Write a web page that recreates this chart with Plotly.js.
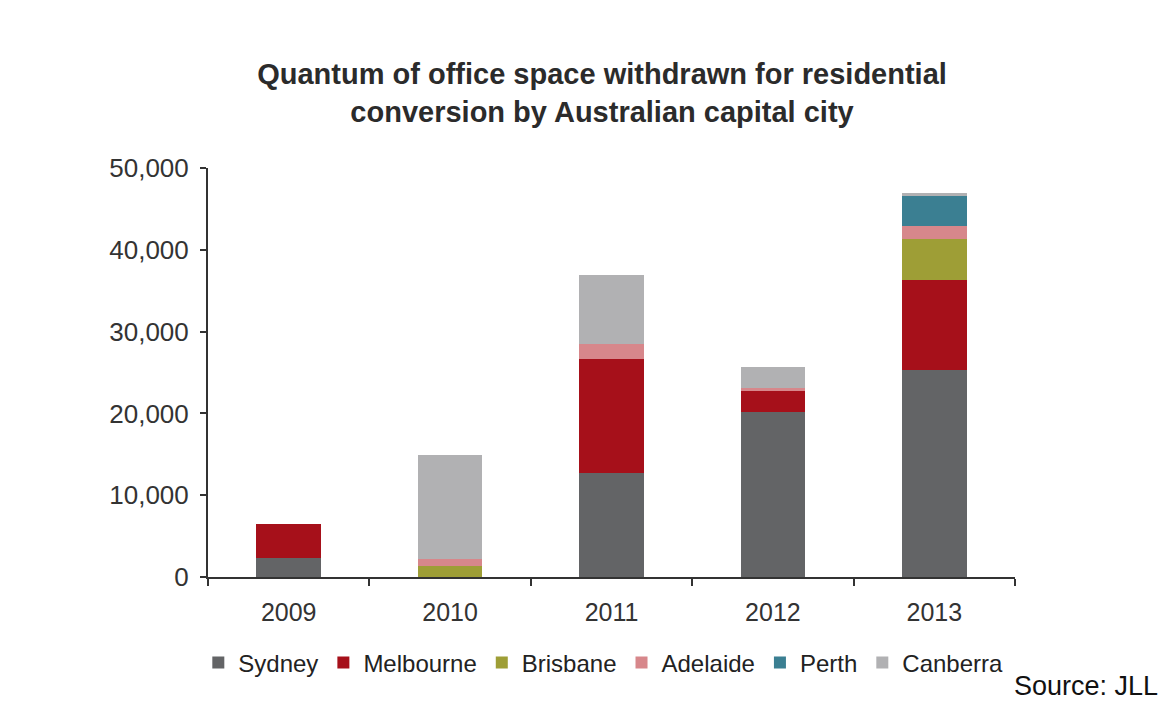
<!DOCTYPE html>
<html>
<head>
<meta charset="utf-8">
<script src="https://cdn.plot.ly/plotly-3.0.1.min.js"></script>
<style>html,body{margin:0;padding:0;background:#fff;}#chart{width:1160px;height:704px;}</style>
</head>
<body>
<div id="chart"></div>
<script>
var years = ["2009", "2010", "2011", "2012", "2013"];
var sydney    = [2300, 0, 12700, 20200, 25300];
var melbourne = [4200, 0, 13900, 2600, 11000];
var brisbane  = [0, 1300, 0, 0, 5000];
var adelaide  = [0, 950, 1850, 250, 1650];
var perth     = [0, 0, 0, 0, 3600];
var canberra  = [0, 12650, 8500, 2600, 400];
var seriesNames = ["Sydney", "Melbourne", "Brisbane", "Adelaide", "Perth", "Canberra"];
var seriesColors = ["#636466", "#a6101a", "#9e9e36", "#d7878b", "#3b7f92", "#b1b1b3"];
var seriesData = [sydney, melbourne, brisbane, adelaide, perth, canberra];

var sans = "'Liberation Sans', Arial, sans-serif";

var traces = seriesNames.map(function (n, i) {
  return {
    type: "bar",
    name: n,
    x: years,
    y: seriesData[i],
    marker: {color: seriesColors[i], line: {width: 0}},
    hoverinfo: "x+y+name"
  };
});

var layout = {
  width: 1160,
  height: 704,
  barmode: "stack",
  bargap: 0.6,
  paper_bgcolor: "#ffffff",
  plot_bgcolor: "#ffffff",
  margin: {l: 208, r: 145, t: 168, b: 127},
  title: {
    text: "Quantum of office space withdrawn for residential<br>conversion by Australian capital city",
    font: {family: sans, size: 29, color: "#2b2b2b", weight: "bold"},
    x: 0.519, xanchor: "center",
    y: 0.88, yanchor: "top"
  },
  xaxis: {
    type: "category",
    showline: true, linecolor: "#333", linewidth: 2,
    ticks: "outside", tickson: "boundaries", ticklen: 7, tickcolor: "#333", tickwidth: 2,
    tickfont: {family: sans, size: 25, color: "#333"},
    ticklabelstandoff: 12,
    showgrid: false, zeroline: false
  },
  yaxis: {
    range: [0, 50000],
    dtick: 10000,
    tickformat: ",d",
    showline: true, linecolor: "#333", linewidth: 2,
    ticks: "outside", ticklen: 6, tickcolor: "#333", tickwidth: 2,
    tickfont: {family: sans, size: 26, color: "#333"},
    ticklabelstandoff: 6,
    showgrid: false, zeroline: false
  },
  showlegend: true,
  legend: {
    orientation: "h",
    traceorder: "normal",
    x: -0.012, xanchor: "left",
    y: -0.155, yanchor: "top",
    font: {family: sans, size: 24, color: "#222"},
    itemwidth: 30,
    tracegroupgap: 0
  },
  annotations: [{
    text: "Source: JLL",
    xref: "paper", yref: "paper",
    x: 1.18, xanchor: "right",
    y: -0.225, yanchor: "top",
    showarrow: false,
    font: {family: sans, size: 27, color: "#111"}
  }]
};

Plotly.newPlot("chart", traces, layout, {displayModeBar: false, staticPlot: true});
</script>
</body>
</html>
